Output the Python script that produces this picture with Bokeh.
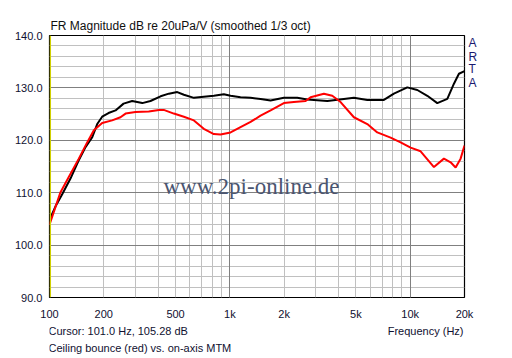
from bokeh.plotting import figure
from bokeh.layouts import column
from bokeh.models import (Range1d, FixedTicker, Grid, Label, Span, Title, LinearAxis)
from bokeh.core.properties import value
from bokeh.embed import file_html
from bokeh.resources import INLINE

# ---- data ----
black_freq = [100, 108, 117.6, 130.7, 144.8, 158.4, 172.6, 183.9, 195.9, 212.4, 232.3,
              257.4, 287.3, 326.9, 363, 413, 459, 511, 556, 632, 717, 815, 926, 1009,
              1146, 1303, 1480, 1682, 1993, 2365, 2687, 3469, 4289, 4873, 5782, 7147,
              8121, 9636, 10950, 12440, 14130, 16060, 17480, 18630, 20000]
black_db = [104.8, 107.4, 109.7, 112.7, 116.1, 118.7, 120.6, 123.1, 124.5, 125.2, 125.7,
            127.0, 127.5, 127.1, 127.5, 128.4, 128.9, 129.2, 128.7, 128.1, 128.3, 128.5,
            128.8, 128.5, 128.2, 128.1, 127.9, 127.6, 128.1, 128.1, 127.8, 127.5, 127.9,
            128.1, 127.7, 127.7, 128.9, 130.1, 129.6, 128.5, 127.1, 127.9, 130.8, 132.7,
            133.2]

red_freq = [100, 115.1, 127.9, 145.4, 161.8, 176.2, 195.9, 222.5, 247.5, 264.1, 299.6,
            355, 404, 430, 489, 556, 632, 717, 815, 888, 1009, 1146, 1303, 1480, 1682,
            1993, 2264, 2630, 2803, 3321, 3698, 4111, 4873, 5782, 6570, 7787, 8847,
            10050, 11420, 13540, 15380, 16750, 17860, 19030, 20000]
red_db = [103.9, 110.1, 113.0, 116.5, 119.6, 121.9, 123.3, 123.8, 124.4, 125.1, 125.4,
          125.5, 125.8, 125.8, 125.1, 124.5, 123.8, 122.2, 121.2, 121.1, 121.5, 122.5,
          123.5, 124.7, 125.7, 127.1, 127.3, 127.5, 128.2, 128.9, 128.5, 127.3, 124.4,
          123.1, 121.5, 120.5, 119.6, 118.6, 117.9, 114.9, 116.5, 115.8, 114.8, 116.5,
          119.0]

x_ticks = [100, 200, 500, 1000, 2000, 5000, 10000, 20000]
x_tick_labels = ["100", "200", "500", "1k", "2k", "5k", "10k", "20k"]
x_minor_grid = [200, 300, 400, 500, 600, 700, 800, 900, 1000, 2000, 3000, 4000, 5000,
                6000, 7000, 8000, 9000, 10000]
x_major_grid = [1000, 10000]
y_ticks = [90, 100, 110, 120, 130, 140]
y_tick_labels = ["90.0", "100.0", "110.0", "120.0", "130.0", "140.0"]
y_minor_grid = [92, 94, 96, 98, 102, 104, 106, 108, 112, 114, 116, 118, 122, 124, 126,
                128, 132, 134, 136, 138]
y_major_grid = [100, 110, 120, 130]
cursor_freq = 101.0
cursor_db = 105.28

title_text = "FR Magnitude dB re 20uPa/V (smoothed 1/3 oct)"
brand_letters = ["A", "R", "T", "A"]
x_axis_title = "Frequency (Hz)"
note_text = "Ceiling bounce (red) vs. on-axis MTM"
watermark = "www.2pi-online.de"

TXT = "#101030"
FONT = "Liberation Sans"

# layout constants (pixels)
W, H = 500, 322          # main figure
H2 = 32                  # strip with the footer texts
FL, FT, FR, FB = 49, 35, 464, 297
# letter positions of the vertical brand text, expressed on the dB axis
brand_pos = [138.57, 135.99, 133.6, 131.03]

p = figure(width=W, height=H, x_axis_type="log", output_backend="svg",
           toolbar_location=None, x_range=Range1d(100, 20000), y_range=Range1d(90, 140))
p.min_border_left = FL
p.min_border_right = W - FR
p.min_border_top = FT
p.min_border_bottom = H - FB
p.background_fill_color = "white"
p.border_fill_color = "white"
p.outline_line_color = "black"
p.outline_line_width = 1.2

# axes
p.xaxis.ticker = FixedTicker(ticks=x_ticks, minor_ticks=[])
p.xaxis.major_label_overrides = {t: l for t, l in zip(x_ticks, x_tick_labels)}
p.yaxis.ticker = FixedTicker(ticks=y_ticks, minor_ticks=[])
p.yaxis.major_label_overrides = {t: l for t, l in zip(y_ticks, y_tick_labels)}

brand_axis = LinearAxis(ticker=FixedTicker(ticks=brand_pos, minor_ticks=[]),
                        major_label_overrides={t: l for t, l in zip(brand_pos, brand_letters)})
p.add_layout(brand_axis, "right")

for ax in (p.xaxis[0], p.yaxis[0], brand_axis):
    ax.axis_line_color = None
    ax.major_tick_line_color = None
    ax.minor_tick_line_color = None
    ax.major_tick_out = 0
    ax.major_tick_in = 0
    ax.major_label_text_font = FONT
    ax.major_label_text_font_size = "11px"
    ax.major_label_text_color = TXT
p.xaxis.major_label_standoff = 10
p.yaxis[0].major_label_standoff = 7
brand_axis.major_label_standoff = 4
brand_axis.major_label_text_font_size = "12px"
brand_axis.major_label_text_color = "#1a1a70"

# title
p.add_layout(Title(text=title_text, align="left", offset=1, standoff=6,
                   text_font=FONT, text_font_size="12px", text_font_style="normal",
                   text_color="#101010"), "above")

# grids
p.xgrid.visible = False
p.ygrid.visible = False
p.add_layout(Grid(dimension=0, ticker=FixedTicker(ticks=x_minor_grid),
                  grid_line_color="#c0c0c0", grid_line_width=1))
p.add_layout(Grid(dimension=1, ticker=FixedTicker(ticks=y_minor_grid),
                  grid_line_color="#c0c0c0", grid_line_width=1))
p.add_layout(Grid(dimension=0, ticker=FixedTicker(ticks=x_major_grid),
                  grid_line_color="#808080", grid_line_width=1))
p.add_layout(Grid(dimension=1, ticker=FixedTicker(ticks=y_major_grid),
                  grid_line_color="#808080", grid_line_width=1))

# watermark
p.add_layout(Label(x=114, y=111, x_units="screen", y_units="screen",
                   text=watermark, text_font="Liberation Serif",
                   text_font_size="23px", text_color="#4a5570", text_baseline="alphabetic"))

# cursor
p.add_layout(Span(location=cursor_freq, dimension="height", line_color="#d0d000", line_width=1.5))

# curves
p.line(black_freq, black_db, line_color="black", line_width=2)
p.line(red_freq, red_db, line_color="#ff0000", line_width=2)

# footer strip: a blank figure whose frame lines up with the main frame;
# its x range is expressed in page pixels
f = figure(width=W, height=H2, output_backend="svg", toolbar_location=None,
           x_range=Range1d(FL, FR), y_range=Range1d(0, H2))
f.min_border_left = FL
f.min_border_right = W - FR
f.min_border_top = 0
f.min_border_bottom = 0
f.axis.visible = False
f.grid.visible = False
f.outline_line_color = None
f.background_fill_color = "white"
f.border_fill_color = "white"
f.text(x=[48], y=[24], text=["Cursor: %.1f Hz, %.2f dB" % (cursor_freq, cursor_db)],
       text_font=value(FONT), text_font_size="11px", text_color=TXT,
       text_align="left", text_baseline="middle")
f.text(x=[FR - 1], y=[24], text=[x_axis_title],
       text_font=value(FONT), text_font_size="11px", text_color=TXT,
       text_align="right", text_baseline="middle")
f.text(x=[48], y=[7], text=[note_text],
       text_font=value(FONT), text_font_size="11px", text_color=TXT,
       text_align="left", text_baseline="middle")

layout = column(p, f, spacing=0)
open("out.html", "w").write(file_html(layout, INLINE))
